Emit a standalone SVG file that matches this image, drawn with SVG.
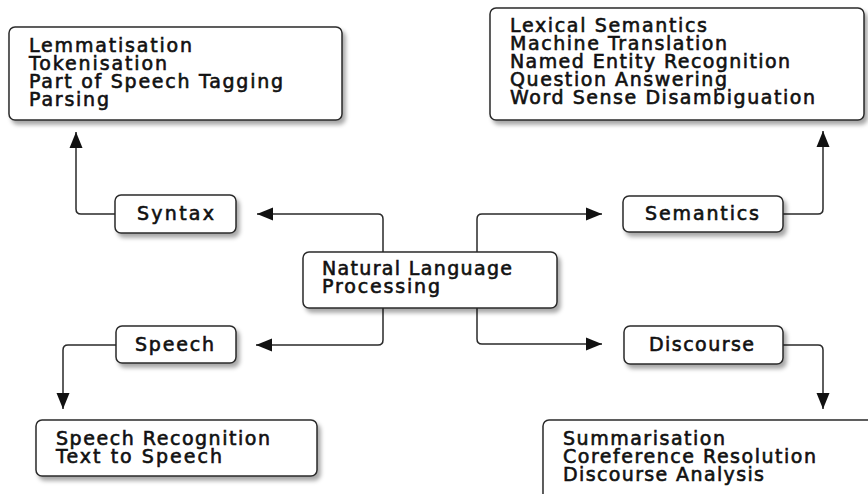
<svg xmlns="http://www.w3.org/2000/svg" width="868" height="494" viewBox="0 0 868 494">
<style>
.box{fill:#fff;stroke:#2a2a2a;stroke-width:1.5;filter:url(#sh)}
.t{font-family:"DejaVu Sans","Liberation Sans",sans-serif;font-size:19px;fill:#111;stroke:#111;stroke-width:0.6}
.c{fill:none;stroke:#2a2a2a;stroke-width:1.5;marker-end:url(#ah)}
</style>
<defs>
<filter id="sh" x="-10%" y="-20%" width="130%" height="150%">
<feDropShadow dx="3" dy="4" stdDeviation="2" flood-color="#000" flood-opacity="0.35"/>
</filter>
<marker id="ah" markerUnits="userSpaceOnUse" markerWidth="17" markerHeight="14" refX="16" refY="7" orient="auto">
<path d="M0,0.5 L16,7 L0,13.5 z" fill="#111"/>
</marker>
</defs>
<rect width="868" height="494" fill="#fff"/>
<g id="connectors">
<path class="c" d="M383,252 V219 Q383,214 378,214 H257"/>
<path class="c" d="M115,214 H81 Q76,214 76,209 V132"/>
<path class="c" d="M477,252 V219 Q477,214 482,214 H602"/>
<path class="c" d="M783,214 H818 Q823,214 823,209 V131"/>
<path class="c" d="M383,308 V340 Q383,345 378,345 H256"/>
<path class="c" d="M116,345 H68 Q63,345 63,350 V409"/>
<path class="c" d="M477,308 V339 Q477,344 482,344 H602"/>
<path class="c" d="M783,345 H818 Q823,345 823,350 V409"/>
</g>
<g id="syntax-tasks">
<rect class="box" x="9" y="27" width="333" height="93" rx="6"/>
<text class="t" x="29" y="52" textLength="163" lengthAdjust="spacing">Lemmatisation</text>
<text class="t" x="29" y="70" textLength="138" lengthAdjust="spacing">Tokenisation</text>
<text class="t" x="29" y="88" textLength="254" lengthAdjust="spacing">Part of Speech Tagging</text>
<text class="t" x="29" y="106" textLength="80" lengthAdjust="spacing">Parsing</text>
</g>
<g id="semantics-tasks">
<rect class="box" x="490" y="8" width="374" height="112" rx="6"/>
<text class="t" x="510" y="32" textLength="197" lengthAdjust="spacing">Lexical Semantics</text>
<text class="t" x="510" y="50" textLength="217" lengthAdjust="spacing">Machine Translation</text>
<text class="t" x="510" y="68" textLength="280" lengthAdjust="spacing">Named Entity Recognition</text>
<text class="t" x="510" y="86" textLength="217" lengthAdjust="spacing">Question Answering</text>
<text class="t" x="510" y="104" textLength="305" lengthAdjust="spacing">Word Sense Disambiguation</text>
</g>
<g id="syntax">
<rect class="box" x="115" y="195" width="121" height="38" rx="6"/>
<text class="t" x="137" y="220" textLength="77" lengthAdjust="spacing">Syntax</text>
</g>
<g id="semantics">
<rect class="box" x="623" y="196" width="160" height="36" rx="6"/>
<text class="t" x="645" y="220" textLength="114" lengthAdjust="spacing">Semantics</text>
</g>
<g id="nlp">
<rect class="box" x="303" y="252" width="254" height="56" rx="6"/>
<text class="t" x="322" y="275" textLength="190" lengthAdjust="spacing">Natural Language</text>
<text class="t" x="322" y="293" textLength="118" lengthAdjust="spacing">Processing</text>
</g>
<g id="speech">
<rect class="box" x="116" y="326" width="120" height="37" rx="6"/>
<text class="t" x="135" y="351" textLength="79" lengthAdjust="spacing">Speech</text>
</g>
<g id="discourse">
<rect class="box" x="624" y="326" width="159" height="38" rx="6"/>
<text class="t" x="649" y="351" textLength="105" lengthAdjust="spacing">Discourse</text>
</g>
<g id="speech-tasks">
<rect class="box" x="36" y="420" width="281" height="56" rx="6"/>
<text class="t" x="56" y="445" textLength="214" lengthAdjust="spacing">Speech Recognition</text>
<text class="t" x="56" y="463" textLength="166" lengthAdjust="spacing">Text to Speech</text>
</g>
<g id="discourse-tasks">
<rect class="box" x="543" y="420" width="340" height="90" rx="6"/>
<text class="t" x="563" y="445" textLength="162" lengthAdjust="spacing">Summarisation</text>
<text class="t" x="563" y="463" textLength="253" lengthAdjust="spacing">Coreference Resolution</text>
<text class="t" x="563" y="481" textLength="201" lengthAdjust="spacing">Discourse Analysis</text>
</g>
</svg>
